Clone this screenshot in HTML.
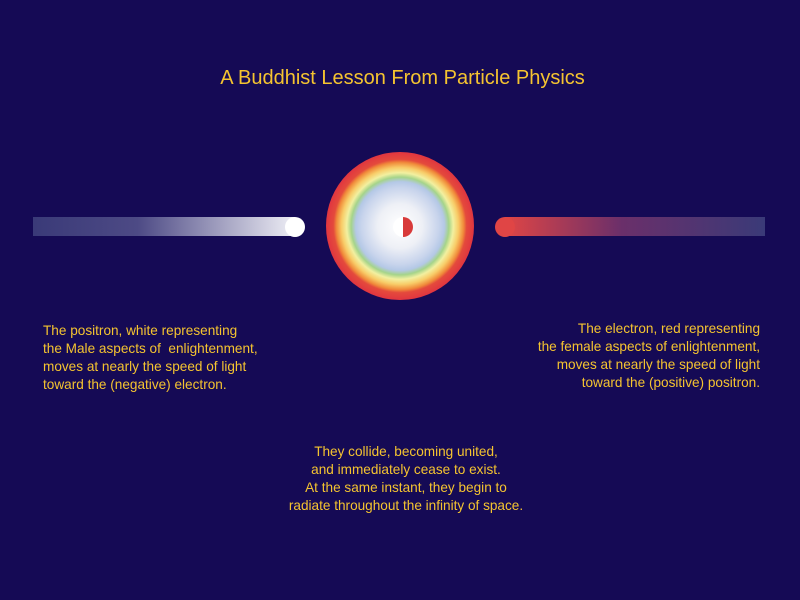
<!DOCTYPE html>
<html><head><style>
body{margin:0;width:800px;height:600px;background:#150a55;position:relative;overflow:hidden;font-family:"Liberation Sans",sans-serif;color:#f5c430}
.t{position:absolute;font-size:13.6px;line-height:18px;white-space:nowrap}
</style></head><body>
<div class="t" style="left:0;width:805px;top:66px;text-align:center;font-size:20px;line-height:24px">A Buddhist Lesson From Particle Physics</div>
<svg width="800" height="600" style="position:absolute;left:0;top:0">
<defs>
<linearGradient id="lb" x1="0" x2="1"><stop offset="0" stop-color="#3a3a78"/><stop offset="0.4" stop-color="#4d4a85"/><stop offset="1" stop-color="#eeeef5"/></linearGradient>
<linearGradient id="rb" x1="0" x2="1"><stop offset="0" stop-color="#e04545"/><stop offset="0.45" stop-color="#6a2f6a"/><stop offset="1" stop-color="#3a3a78"/></linearGradient>
<radialGradient id="rg" cx="0.5" cy="0.5" r="0.5">
<stop offset="0" stop-color="#ffffff"/>
<stop offset="0.3" stop-color="#eef0f6"/>
<stop offset="0.52" stop-color="#c8d4ec"/>
<stop offset="0.6" stop-color="#b4c8e6"/>
<stop offset="0.66" stop-color="#a5d48a"/>
<stop offset="0.72" stop-color="#f2f0a0"/>
<stop offset="0.79" stop-color="#f8cc68"/>
<stop offset="0.86" stop-color="#f08a3a"/>
<stop offset="0.9" stop-color="#e44a3c"/>
<stop offset="1" stop-color="#e03540"/>
</radialGradient>
</defs>
<rect x="33" y="217" width="262" height="19" fill="url(#lb)"/>
<circle cx="295" cy="227" r="10" fill="#fff"/>
<rect x="505" y="217" width="260" height="19" fill="url(#rb)"/>
<circle cx="505" cy="227" r="10" fill="#e04545"/>
<circle cx="400" cy="226" r="74" fill="url(#rg)"/>
<circle cx="403" cy="227" r="10" fill="#fff"/>
<path d="M403 217 A10 10 0 0 1 403 237 Z" fill="#d83a3a"/>
</svg>
<div class="t" style="left:43px;top:322px">The positron, white representing<br>the Male aspects of&nbsp; enlightenment,<br>moves at nearly the speed of light<br>toward the (negative) electron.</div>
<div class="t" style="right:40px;top:320px;text-align:right">The electron, red representing<br>the female aspects of enlightenment,<br>moves at nearly the speed of light<br>toward the (positive) positron.</div>
<div class="t" style="left:0;width:812px;top:443px;text-align:center">They collide, becoming united,<br>and immediately cease to exist.<br>At the same instant, they begin to<br>radiate throughout the infinity of space.</div>
</body></html>
